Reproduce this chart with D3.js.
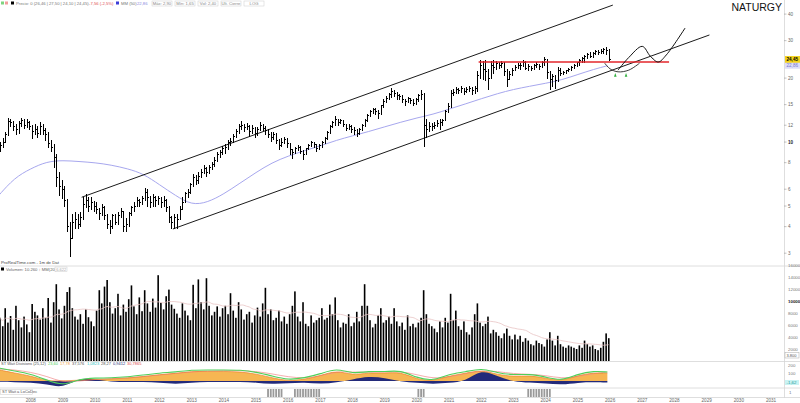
<!DOCTYPE html>
<html>
<head>
<meta charset="utf-8">
<script src="https://cdn.jsdelivr.net/npm/d3@7"></script>
<style>
body { margin: 0; background: #fff; }
svg { display: block; font-family: "Liberation Sans", Arial, sans-serif; }
</style>
</head>
<body>
<script>
var W = 800, H = 403, plotRight = 784;

// monthly bars, Jan 2007 .. Dec 2025
var startYear = 2007;
var closes = [
  9.6,10.0,10.8,12.5,12.3,11.8,11.4,12.2,12.6,12.0,12.4,11.8,
  11.2,11.5,11.0,11.8,11.3,10.8,9.8,9.4,8.5,6.8,6.2,6.0,
  5.3,4.0,3.5,4.2,4.3,4.1,4.4,5.1,5.3,5.0,5.2,5.0,
  4.8,4.6,4.9,4.5,4.1,4.0,4.5,4.2,4.5,4.7,4.0,4.1,
  4.6,4.9,5.0,5.3,5.2,5.4,5.8,5.5,5.2,5.5,5.3,5.4,
  5.2,5.3,4.9,4.4,4.2,4.4,4.3,4.8,5.2,5.7,5.8,6.3,
  6.8,6.6,6.9,7.2,7.5,7.2,7.6,7.8,8.2,8.7,8.9,9.3,
  9.4,9.9,10.1,10.6,11.2,11.8,12.0,11.7,11.9,11.2,11.6,11.0,
  11.4,12.0,11.6,11.3,10.8,10.5,10.9,10.2,9.6,10.0,10.3,9.8,
  9.2,8.9,9.3,9.4,9.0,8.7,9.3,9.6,9.9,9.7,9.3,9.6,
  9.9,10.4,11.1,11.8,12.4,12.8,12.4,12.6,12.1,11.6,11.9,11.5,
  11.3,11.0,11.4,12.0,12.6,13.3,13.9,14.2,14.0,13.6,14.8,15.6,
  16.1,16.8,17.3,17.0,16.6,16.4,15.9,15.5,16.0,15.7,15.2,15.8,
  16.5,16.8,12.0,11.5,11.9,11.8,12.0,12.2,12.3,12.6,13.9,14.7,
  16.9,17.2,17.6,17.4,17.8,17.3,17.6,17.9,17.4,17.8,20.5,23.0,
  22.0,21.5,20.0,23.0,22.5,23.3,22.8,23.4,21.5,19.8,20.8,21.8,
  22.5,23.0,22.8,23.8,22.3,22.6,22.2,22.8,23.2,22.7,23.6,24.4,
  21.2,19.8,20.3,19.5,21.8,21.0,21.3,21.6,22.0,22.4,23.0,23.6,
  24.2,24.8,25.2,25.8,25.4,26.0,26.6,26.3,26.8,27.2,26.9,24.45
];
var highs = [
  10.0,10.4,11.2,13.0,12.9,12.5,12.1,12.6,13.0,12.8,12.8,12.6,
  12.0,12.2,11.9,12.4,12.1,11.6,11.2,10.2,9.8,8.8,7.2,6.6,
  6.2,5.4,4.2,4.6,4.7,4.6,4.7,5.5,5.7,5.5,5.5,5.3,
  5.2,4.9,5.1,5.0,4.6,4.3,4.6,4.6,4.7,4.9,4.7,4.4,
  4.7,5.0,5.2,5.5,5.4,5.6,6.1,6.0,5.6,5.7,5.6,5.6,
  5.5,5.6,5.4,5.0,4.5,4.6,4.6,5.0,5.5,5.8,6.0,6.4,
  7.1,7.0,7.2,7.5,7.8,7.6,7.8,8.1,8.5,9.0,9.2,9.6,
  9.8,10.2,10.4,10.9,11.5,12.2,12.5,12.2,12.3,12.0,12.0,11.8,
  11.8,12.4,12.2,11.9,11.5,11.1,11.2,11.0,10.3,10.4,10.6,10.4,
  9.9,9.3,9.5,9.7,9.6,9.2,9.4,9.8,10.1,10.0,9.8,9.8,
  10.1,10.6,11.3,12.0,12.6,13.2,12.9,12.9,12.7,12.2,12.1,12.0,
  11.8,11.5,11.6,12.2,12.9,13.5,14.1,14.5,14.4,14.2,15.0,15.9,
  16.4,17.0,17.9,17.6,17.2,16.9,16.6,16.0,16.3,16.2,15.9,16.1,
  16.9,17.6,17.0,12.8,12.4,12.3,12.4,12.7,12.8,12.9,14.2,15.2,
  17.6,17.8,18.1,18.0,18.3,17.9,18.1,18.4,18.2,18.3,21.5,24.2,
  24.0,24.2,22.0,24.0,24.3,24.1,23.8,24.0,23.8,22.0,21.6,22.4,
  23.0,23.6,23.6,24.2,24.0,23.2,22.9,23.3,23.8,23.4,24.0,25.0,
  24.5,21.5,21.0,20.6,22.6,22.2,21.7,21.9,22.3,22.7,23.3,23.9,
  24.6,25.2,25.8,26.3,26.4,26.6,27.0,27.2,27.4,27.8,28.0,27.5
];
var lows = [
  9.0,9.4,9.9,10.7,11.8,11.3,10.9,11.0,11.9,11.6,11.7,11.4,
  10.4,10.8,10.5,10.9,10.8,10.2,9.4,9.0,7.6,6.2,5.6,5.4,
  5.0,3.8,2.9,3.5,3.9,3.9,4.0,4.3,4.9,4.7,4.8,4.7,
  4.6,4.3,4.5,4.3,3.9,3.7,3.9,4.1,4.1,4.4,3.8,3.8,
  4.0,4.5,4.7,5.0,5.0,5.1,5.3,5.0,4.9,5.0,5.0,5.1,
  4.9,5.0,4.7,4.2,3.9,3.9,3.9,4.3,4.8,5.2,5.5,5.7,
  6.2,6.3,6.4,6.8,7.1,6.9,7.1,7.4,7.7,8.1,8.5,8.7,
  8.8,9.2,9.6,10.0,10.5,11.0,11.4,11.2,11.4,10.6,11.0,10.5,
  10.7,11.3,11.3,10.9,10.5,10.1,10.3,9.8,9.2,9.5,9.8,9.4,
  8.7,8.4,8.8,9.1,8.8,8.3,8.7,9.2,9.5,9.4,9.0,9.2,
  9.4,9.8,10.3,11.0,11.7,12.0,12.0,12.2,11.8,11.3,11.4,11.1,
  10.9,10.6,10.8,11.3,11.9,12.5,13.2,13.7,13.5,12.9,13.5,14.6,
  15.3,15.9,16.2,16.4,15.9,15.9,15.4,14.9,15.3,15.2,14.9,15.0,
  15.6,15.8,9.5,10.5,11.2,11.3,11.6,11.8,11.5,12.0,12.6,13.8,
  14.6,16.5,16.9,16.9,17.1,16.8,17.1,17.3,16.7,17.0,17.3,20.0,
  19.8,19.5,17.6,20.0,21.0,22.0,22.1,22.5,20.5,18.2,19.6,20.6,
  21.6,22.2,22.0,22.6,21.9,21.8,21.6,21.9,22.5,22.0,22.5,22.8,
  20.0,17.6,18.2,17.8,19.3,20.5,20.7,21.0,21.4,21.8,22.2,22.6,
  23.0,23.8,23.8,24.6,24.9,25.0,25.8,25.7,26.1,26.2,25.8,24.1
];
var volumes = [
  7200,5800,8800,6400,7500,5200,9200,6800,5600,7400,6100,4800,
  9500,8200,7600,6900,8800,7200,10500,6400,9800,12800,8600,7100,
  9200,11500,12300,8800,7400,6900,7800,6200,8600,7300,6600,5800,
  8400,11800,9600,12400,13500,9800,7900,8800,11200,7600,9400,8200,
  10300,12600,9100,7800,10600,8300,11800,9600,8200,10400,8900,14300,
  9700,8600,10800,11900,9400,8700,7900,7200,9600,8400,7600,6800,
  12700,8800,13600,9800,8600,13800,9200,7600,8200,9100,7400,8800,
  9200,7800,11300,8400,7200,9800,8600,6900,7800,8200,6400,7600,
  8900,7400,9600,12200,7800,8600,6800,7200,8400,6600,7400,6200,
  7800,9200,11600,7400,6600,9800,6200,5800,7600,6400,6800,7200,
  8800,6900,7200,9400,7800,10600,6800,5600,6400,6200,7800,5800,
  6400,8200,6600,9200,12800,9200,6800,5600,6200,7600,8800,6400,
  6800,7400,6200,8800,6600,5800,6400,5200,7600,5800,6200,5600,
  6400,7200,11800,7800,6200,5800,5400,4800,6600,5600,7200,6400,
  11200,6800,8400,5800,5200,6600,4800,4400,5600,7800,9600,6400,
  5800,6200,7400,4600,5200,4800,4200,3800,4600,5400,4200,3600,
  4400,3600,4200,3200,3800,3400,2800,2600,3400,3000,2800,2400,
  3600,4800,3400,2600,4200,2800,2400,2200,2600,2400,2200,2000,
  2600,2200,3400,2800,2400,2600,2000,1800,2200,3200,4600,3800
];

// moving average, read every six months
var maDates = ["2007-01","2007-07","2008-01","2008-07","2009-01","2009-07","2010-01","2010-07",
  "2011-01","2011-07","2012-01","2012-07","2013-01","2013-07","2014-01","2014-07","2015-01",
  "2015-07","2016-01","2016-07","2017-01","2017-07","2018-01","2018-07","2019-01","2019-07",
  "2020-01","2020-07","2021-01","2021-07","2022-01","2022-07","2023-01","2023-07","2024-01",
  "2024-07","2025-01","2025-07","2025-12"];
var maValues = [5.6,6.8,7.5,8.1,8.2,8.1,8.0,7.8,7.5,7.1,6.3,5.6,5.05,5.2,5.7,6.4,7.2,8.0,8.6,
  9.1,9.6,10.2,10.7,11.2,11.8,12.4,13.0,13.5,14.3,15.1,16.0,16.9,17.7,18.3,18.9,19.6,20.8,22.0,22.86];

// lower oscillator, same six-monthly dates
var oscGreen = [162,125,88,12,-62,25,38,38,50,75,100,112,138,138,138,138,112,62,12,38,88,162,88,125,112,138,38,0,88,112,162,100,75,88,50,0,88,125,112];
var oscOrange = [140,100,65,0,0,10,20,25,35,55,80,95,120,120,120,115,90,40,0,20,65,135,70,105,95,115,20,0,65,95,140,80,55,70,35,0,70,105,95];
var oscNavy = [-10,-15,-20,-40,-90,40,20,-10,-15,-10,-20,-40,-20,-10,-15,-10,-20,-40,-30,-15,-40,-20,20,60,40,-10,-20,-40,-20,-10,150,60,-10,-20,-30,-50,-20,-15,-20];
var oscPink = [150,140,110,60,-20,0,20,30,40,55,75,95,115,125,130,130,120,90,50,35,60,120,110,110,110,120,80,30,50,90,130,120,90,85,70,30,55,95,110];

// drawn objects
var channelUpper = [["2009-08", 5.5], ["2026-02", 44.1]];
var channelLower = [["2012-06", 3.9], ["2029-02", 31.9]];
var resistance = [["2021-12", 23.8], ["2027-11", 23.8]];
var cup = [["2025-11", 23.5], ["2026-01", 22.1], ["2026-04", 21.4], ["2026-08", 21.8], ["2026-12", 23.5]];
var wave = [["2026-04", 21.8], ["2026-08", 25.0], ["2027-01", 28.2], ["2027-04", 25.4], ["2027-07", 23.8], ["2027-10", 25.7], ["2028-05", 34.4]];
var greenMarks = [["2026-03", 20.7], ["2026-07", 20.7]];
var stripPeriods = [["2015-05", "2015-10"], ["2016-03", "2016-12"], ["2020-01", "2020-03"], ["2023-06", "2024-02"]];

var priceTicks = [3, 4, 5, 6, 8, 10, 12, 15, 20, 30, 40];
var volTicks = [2000, 4000, 6000, 8000, 10000, 12000, 14000, 16000];
var oscTicks = [100, 200];
var yearTicks = d3.range(2008, 2032);

var parseMonth = d3.timeParse("%Y-%m");
var fmt = function(v) { return d3.format(".2f")(v).replace(".", ","); };

var months = closes.map(function(c, i) { return new Date(startYear + Math.floor(i / 12), i % 12, 1); });
var bars = closes.map(function(c, i) {
  return { date: months[i], open: i ? closes[i - 1] : lows[0], high: highs[i], low: lows[i], close: c, vol: volumes[i] };
});

var x = d3.scaleTime().domain([new Date(2007, 0, 1), new Date(2031, 0, 1)]).range([-1.4, 771]);
var y = d3.scaleLog().domain([2.64, 46.6]).range([265, 0]);
var yVol = d3.scaleLinear().domain([0, 16000]).range([361, 265]);
var yOsc = d3.scaleLinear().domain([-100, 250]).range([389, 361]);

var svg = d3.select("body").append("svg").attr("width", W).attr("height", H);
var defs = svg.append("defs");
defs.append("clipPath").attr("id", "clipPrice")
  .append("rect").attr("x", 0).attr("y", 0).attr("width", plotRight).attr("height", 265);
defs.append("clipPath").attr("id", "clipOsc")
  .append("rect").attr("x", 0).attr("y", 362).attr("width", 612).attr("height", 26);

// panel frames
var frameY = [266, 361.5, 388, 397.5];
svg.selectAll(".frame").data(frameY).enter().append("line")
  .attr("x1", 0).attr("x2", W).attr("y1", function(d) { return d; }).attr("y2", function(d) { return d; })
  .attr("stroke", "#d6d6d6").attr("stroke-width", 0.8);
svg.append("line").attr("x1", plotRight + 0.5).attr("x2", plotRight + 0.5).attr("y1", 0).attr("y2", 398)
  .attr("stroke", "#d6d6d6").attr("stroke-width", 0.8);

// ---------- price panel ----------
var price = svg.append("g").attr("clip-path", "url(#clipPrice)");

var maLine = d3.line().curve(d3.curveBasis)
  .x(function(d) { return x(d[0]); }).y(function(d) { return y(d[1]); });
price.append("path")
  .datum(maDates.map(function(d, i) { return [parseMonth(d), maValues[i]]; }))
  .attr("d", maLine).attr("fill", "none").attr("stroke", "#a7a7ee").attr("stroke-width", 1);

function cx(d) { return Math.round(x(d.date) + 1.3) + 0.5; }

var ohlc = price.append("g").attr("stroke", "#000").attr("stroke-width", 1).attr("shape-rendering", "crispEdges");
ohlc.selectAll(".hl").data(bars).enter().append("line")
  .attr("x1", cx).attr("x2", cx)
  .attr("y1", function(d) { return y(d.high); }).attr("y2", function(d) { return y(d.low) + 0.5; });
ohlc.selectAll(".op").data(bars).enter().append("line")
  .attr("x1", function(d) { return cx(d) - 1; }).attr("x2", cx)
  .attr("y1", function(d) { return y(d.open); }).attr("y2", function(d) { return y(d.open); });
ohlc.selectAll(".cl").data(bars).enter().append("line")
  .attr("x1", cx).attr("x2", function(d) { return cx(d) + 1; })
  .attr("y1", function(d) { return y(d.close); }).attr("y2", function(d) { return y(d.close); });

var drawLine = d3.line().x(function(d) { return x(parseMonth(d[0])); }).y(function(d) { return y(d[1]); });
var drawCurve = d3.line().curve(d3.curveCatmullRom.alpha(0.5))
  .x(function(d) { return x(parseMonth(d[0])); }).y(function(d) { return y(d[1]); });

price.append("path").datum(channelUpper).attr("d", drawLine).attr("stroke", "#000").attr("stroke-width", 0.9).attr("fill", "none");
price.append("path").datum(channelLower).attr("d", drawLine).attr("stroke", "#000").attr("stroke-width", 0.9).attr("fill", "none");
price.append("path").datum(resistance).attr("d", drawLine).attr("stroke", "#e3262b").attr("stroke-width", 1.3).attr("fill", "none");
price.append("path").datum(cup).attr("d", drawCurve).attr("stroke", "#222").attr("stroke-width", 0.9).attr("fill", "none");
price.append("path").datum(wave).attr("d", drawCurve).attr("stroke", "#111").attr("stroke-width", 1).attr("fill", "none");
price.selectAll(".gm").data(greenMarks).enter().append("path")
  .attr("transform", function(d) { return "translate(" + x(parseMonth(d[0])) + "," + y(d[1]) + ")"; })
  .attr("d", "M-1.3,1.8L0,-1.8L1.3,1.8Z").attr("fill", "#2fae3c");

// title
svg.append("text").attr("x", 782).attr("y", 11).attr("text-anchor", "end")
  .attr("font-size", 10.5).attr("fill", "#111").text("NATURGY");

// top legend
var legend = svg.append("g").attr("font-size", 4.2);
legend.append("rect").attr("x", 1).attr("y", 1.5).attr("width", 3).attr("height", 3).attr("fill", "#7fd37f");
legend.append("rect").attr("x", 5).attr("y", 1.5).attr("width", 3).attr("height", 3).attr("fill", "#f29c9c");
legend.append("rect").attr("x", 11).attr("y", 1.5).attr("width", 3).attr("height", 3).attr("fill", "#000");
legend.append("text").attr("x", 16).attr("y", 4.6).attr("fill", "#777").text("Precio: 0 (26,46 | 27,50 | 24,10 | 24,45)");
legend.append("text").attr("x", 89).attr("y", 4.6).attr("fill", "#e05050").text("-7,56 (-2,5%)");
legend.append("rect").attr("x", 116).attr("y", 1.5).attr("width", 3).attr("height", 3).attr("fill", "#3d3dd8");
legend.append("text").attr("x", 121).attr("y", 4.6).attr("fill", "#777").text("MM (50)");
legend.append("text").attr("x", 137).attr("y", 4.6).attr("fill", "#8a8ae0").text("22,86");
["Máx: 2,90", "Mín: 1,65", "Vol: 2,40", "Ult. Cierre", "LOG"].forEach(function(t, i) {
  var bx = 152 + i * 23;
  legend.append("rect").attr("x", bx).attr("y", 1).attr("width", 20).attr("height", 5)
    .attr("fill", "#fff").attr("stroke", "#ccc").attr("stroke-width", 0.5);
  legend.append("text").attr("x", bx + 10).attr("y", 4.6).attr("text-anchor", "middle").attr("fill", "#888").text(t);
});

// price axis
var pAxis = svg.append("g").attr("font-size", 4.6).attr("fill", "#555");
pAxis.selectAll(".pt").data(priceTicks).enter().append("line")
  .attr("x1", plotRight).attr("x2", plotRight + 2.5)
  .attr("y1", function(d) { return y(d); }).attr("y2", function(d) { return y(d); })
  .attr("stroke", "#999").attr("stroke-width", 0.6);
pAxis.selectAll(".pl").data(priceTicks).enter().append("text")
  .attr("x", 788).attr("y", function(d) { return y(d) + 1.6; })
  .attr("font-weight", function(d) { return d === 10 ? "bold" : null; })
  .attr("fill", function(d) { return d === 10 ? "#222" : "#666"; })
  .text(function(d) { return d; });

var lastClose = closes[closes.length - 1], lastMa = maValues[maValues.length - 1];
pAxis.append("rect").attr("x", 785).attr("y", y(lastClose) - 3.5).attr("width", 15).attr("height", 7).attr("fill", "#f2d21b");
pAxis.append("text").attr("x", 786.5).attr("y", y(lastClose) + 1.7).attr("font-weight", "bold").attr("fill", "#000").text(fmt(lastClose));
pAxis.append("rect").attr("x", 785).attr("y", y(lastMa) - 3).attr("width", 15).attr("height", 6).attr("fill", "#dedefa");
pAxis.append("text").attr("x", 786.5).attr("y", y(lastMa) + 1.6).attr("fill", "#7777cc").text(fmt(lastMa));

// ---------- volume panel ----------
var vol = svg.append("g");
vol.selectAll(".vb").data(bars).enter().append("rect")
  .attr("x", function(d) { return x(d.date) + 0.6; })
  .attr("width", 1.6)
  .attr("y", function(d) { return yVol(d.vol); })
  .attr("height", function(d) { return yVol(0) - yVol(d.vol); })
  .attr("fill", "#000");

var volMa = bars.map(function(d, i) {
  var s = volumes.slice(Math.max(0, i - 19), i + 1);
  return [d.date, d3.mean(s)];
});
vol.append("path").datum(volMa)
  .attr("d", d3.line().curve(d3.curveBasis).x(function(d) { return x(d[0]) + 1.3; }).y(function(d) { return yVol(d[1]); }))
  .attr("fill", "none").attr("stroke", "#e8c4c4").attr("stroke-width", 0.8);

vol.append("text").attr("x", 1).attr("y", 263.5).attr("font-size", 4.3).attr("fill", "#444").text("ProRealTime.com - 1m de Dat");
vol.append("rect").attr("x", 1).attr("y", 267.5).attr("width", 3).attr("height", 3).attr("fill", "#000");
vol.append("text").attr("x", 6).attr("y", 270.6).attr("font-size", 4.2).attr("fill", "#666").text("Volumen: 10.260  \u2191 MM(20)");
vol.append("rect").attr("x", 55).attr("y", 267).attr("width", 12).attr("height", 4.5).attr("fill", "#fff").attr("stroke", "#ccc").attr("stroke-width", 0.5);
vol.append("text").attr("x", 56.2).attr("y", 270.6).attr("font-size", 4).attr("fill", "#aaa").text("6.622");

var vAxis = svg.append("g").attr("font-size", 4.4);
vAxis.selectAll(".vl").data(volTicks).enter().append("text")
  .attr("x", 788).attr("y", function(d) { return yVol(d) + 1.6; })
  .attr("font-weight", function(d) { return d === 10000 ? "bold" : null; })
  .attr("fill", function(d) { return d === 10000 ? "#222" : "#777"; })
  .text(function(d) { return d; });
vAxis.append("rect").attr("x", 785).attr("y", 352.5).attr("width", 14).attr("height", 5.5)
  .attr("fill", "#fff").attr("stroke", "#aaa").attr("stroke-width", 0.5);
vAxis.append("text").attr("x", 786.5).attr("y", 356.6).attr("fill", "#555").attr("font-size", 4).text("3.800");

// ---------- oscillator panel ----------
var osc = svg.append("g").attr("clip-path", "url(#clipOsc)");
var oscDates = maDates.map(parseMonth);
var oscArea = function(vals) {
  return d3.area().curve(d3.curveBasis)
    .x(function(d, i) { return x(oscDates[i]); })
    .y0(yOsc(0)).y1(function(d) { return yOsc(d); })(vals);
};
var oscLine = function(vals) {
  return d3.line().curve(d3.curveBasis)
    .x(function(d, i) { return x(oscDates[i]); })
    .y(function(d) { return yOsc(d); })(vals);
};
osc.append("path").attr("d", oscArea(oscOrange)).attr("fill", "#f6b653");
osc.append("path").attr("d", oscArea(oscNavy)).attr("fill", "#232a7a");
osc.append("path").attr("d", oscLine(oscPink)).attr("fill", "none").attr("stroke", "#f08a8a").attr("stroke-width", 0.7);
osc.append("path").attr("d", oscLine(oscOrange)).attr("fill", "none").attr("stroke", "#e8741c").attr("stroke-width", 0.6);
osc.append("path").attr("d", oscLine(oscGreen)).attr("fill", "none").attr("stroke", "#4fd05a").attr("stroke-width", 1.1);

var oh = svg.append("g").attr("font-size", 4);
oh.append("text").attr("x", 1).attr("y", 365.3).attr("fill", "#555").text("ST Wait Divisions (25,12)");
oh.append("text").attr("x", 48).attr("y", 365.3).attr("fill", "#4fd05a").text("23,60");
oh.append("text").attr("x", 60).attr("y", 365.3).attr("fill", "#f0a040").text("17,78");
oh.append("text").attr("x", 72).attr("y", 365.3).attr("fill", "#555").text("37,576");
oh.append("text").attr("x", 87).attr("y", 365.3).attr("fill", "#35c5c5").text("1,0823");
oh.append("text").attr("x", 101).attr("y", 365.3).attr("fill", "#555").text("28,27");
oh.append("text").attr("x", 113).attr("y", 365.3).attr("fill", "#232a7a").text("0,9412");
oh.append("text").attr("x", 127).attr("y", 365.3).attr("fill", "#e05050").text("30,7865");

var oAxis = svg.append("g").attr("font-size", 4.4).attr("fill", "#777");
oAxis.selectAll(".ol").data(oscTicks).enter().append("text")
  .attr("x", 788).attr("y", function(d) { return yOsc(d) + 1.6; }).text(function(d) { return d; });
oAxis.append("rect").attr("x", 785).attr("y", 380).attr("width", 14).attr("height", 5).attr("fill", "#c9f3f3");
oAxis.append("text").attr("x", 786.5).attr("y", 383.8).attr("fill", "#2a9a9a").text("-1,62");

// ---------- signal strip ----------
var strip = svg.append("g");
stripPeriods.forEach(function(p) {
  var ms = d3.timeMonth.range(parseMonth(p[0]), d3.timeMonth.offset(parseMonth(p[1]), 1));
  strip.selectAll(null).data(ms).enter().append("rect")
    .attr("x", function(d) { return x(d) + 0.5; }).attr("y", 389).attr("width", 1.8).attr("height", 8)
    .attr("fill", "#9a9a9a");
});
strip.append("rect").attr("x", 0.5).attr("y", 389.5).attr("width", 32).attr("height", 5)
  .attr("fill", "#fff").attr("stroke", "#ccc").attr("stroke-width", 0.5);
strip.append("text").attr("x", 2).attr("y", 393.3).attr("font-size", 4).attr("fill", "#555").text("ST Wait a LoCoDec");
strip.append("text").attr("x", 789).attr("y", 394).attr("font-size", 4.4).attr("fill", "#777").text("1");

// ---------- time axis ----------
svg.append("g").selectAll("text").data(yearTicks).enter().append("text")
  .attr("x", function(d) { return x(new Date(d, 0, 1)); })
  .attr("y", 402).attr("text-anchor", "middle").attr("font-size", 4.6).attr("fill", "#666")
  .text(function(d) { return d; });
</script>
</body>
</html>
